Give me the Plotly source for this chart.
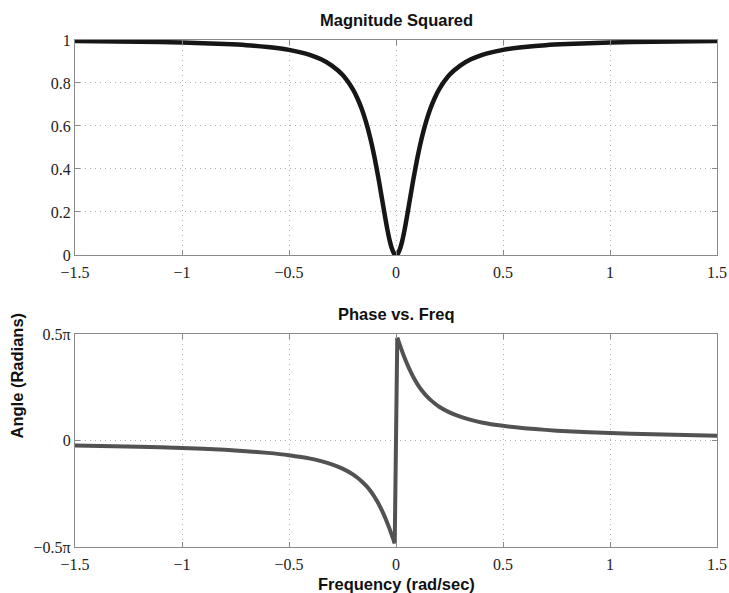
import plotly.graph_objects as go

# ---- data ----
freq_pos = [0.006, 0.01, 0.02, 0.03, 0.04, 0.05, 0.06, 0.07, 0.08, 0.09, 0.10, 0.12, 0.14, 0.16,
            0.18, 0.20, 0.25, 0.30, 0.35, 0.40, 0.50, 0.60, 0.70, 0.80, 1.00, 1.20, 1.50]
mag_pos = [0.003, 0.008, 0.032, 0.069, 0.117, 0.171, 0.229, 0.288, 0.346, 0.40, 0.452, 0.543, 0.618,
           0.679, 0.728, 0.768, 0.838, 0.881, 0.910, 0.930, 0.954, 0.967, 0.976, 0.981, 0.988, 0.992, 0.995]
phase_pos = [0.483, 0.471, 0.443, 0.415, 0.389, 0.364, 0.341, 0.320, 0.300, 0.282, 0.265, 0.236, 0.212,
             0.192, 0.175, 0.160, 0.132, 0.112, 0.097, 0.085, 0.069, 0.058, 0.050, 0.0435, 0.035, 0.029, 0.023]

x_ticks = [-1.5, -1, -0.5, 0, 0.5, 1, 1.5]
x_tick_labels = ["\u22121.5", "\u22121", "\u22120.5", "0", "0.5", "1", "1.5"]
mag_ticks = [0, 0.2, 0.4, 0.6, 0.8, 1]
mag_tick_labels = ["0", "0.2", "0.4", "0.6", "0.8", "1"]
phase_ticks = [-0.5, 0, 0.5]
phase_tick_labels = ["\u22120.5\u03c0", "0", "0.5\u03c0"]

# full curves (negative side mirrors the positive side as seen in the picture)
freq = [-f for f in reversed(freq_pos)] + [0.0] + freq_pos
mag = list(reversed(mag_pos)) + [0.0] + mag_pos
neg_x = [-f for f in reversed(freq_pos)]
neg_phase = [-p for p in reversed(phase_pos)]

phase_color = "#525252"
fig = go.Figure()
fig.add_trace(go.Scatter(x=freq, y=mag, mode="lines",
                         line=dict(color="#161616", width=4.5, shape="spline", smoothing=0.6),
                         xaxis="x", yaxis="y", showlegend=False, hoverinfo="skip"))
fig.add_trace(go.Scatter(x=neg_x, y=neg_phase, mode="lines",
                         line=dict(color=phase_color, width=4, shape="spline", smoothing=0.6),
                         xaxis="x2", yaxis="y2", showlegend=False, hoverinfo="skip"))
fig.add_trace(go.Scatter(x=[neg_x[-1], freq_pos[0]], y=[neg_phase[-1], phase_pos[0]], mode="lines",
                         line=dict(color=phase_color, width=4),
                         xaxis="x2", yaxis="y2", showlegend=False, hoverinfo="skip"))
fig.add_trace(go.Scatter(x=freq_pos, y=phase_pos, mode="lines",
                         line=dict(color=phase_color, width=4, shape="spline", smoothing=0.6),
                         xaxis="x2", yaxis="y2", showlegend=False, hoverinfo="skip"))

tickfont = dict(family="Liberation Serif, Times New Roman, serif", size=16, color="#222")
common_axis = dict(showline=True, linecolor="#8a8a8a", linewidth=1.2, mirror="ticks", ticks="inside",
                   ticklen=5, tickcolor="#8a8a8a", showgrid=True, gridcolor="#b0b0b0",
                   griddash="1px,4px", gridwidth=1, zeroline=False, tickfont=tickfont,
                   automargin=False)

fig.update_layout(
    width=729, height=593,
    margin=dict(l=75, r=12, t=40, b=46),
    paper_bgcolor="white", plot_bgcolor="white",
    xaxis=dict(domain=[0, 1], range=[-1.5, 1.5], tickvals=x_ticks, ticktext=x_tick_labels,
               anchor="y", ticklabelstandoff=3, **common_axis),
    yaxis=dict(domain=[0.576, 1], range=[0, 1], tickvals=mag_ticks, ticktext=mag_tick_labels,
               anchor="x", **common_axis),
    xaxis2=dict(domain=[0, 1], range=[-1.5, 1.5], tickvals=x_ticks, ticktext=x_tick_labels,
                anchor="y2", ticklabelstandoff=3, **common_axis),
    yaxis2=dict(domain=[0, 0.42], range=[-0.5, 0.5], tickvals=phase_ticks, ticktext=phase_tick_labels,
                anchor="x2", **common_axis),
)

title_font = dict(family="Liberation Sans, Arial, sans-serif", size=16.5, color="#111")
fig.add_annotation(text="<b>Magnitude Squared</b>", x=0.5, y=1.0, xref="paper", yref="paper",
                   yanchor="bottom", yshift=9, showarrow=False, font=title_font)
fig.add_annotation(text="<b>Phase vs. Freq</b>", x=0.5, y=0.42, xref="paper", yref="paper",
                   yanchor="bottom", yshift=9, showarrow=False, font=title_font)
fig.add_annotation(text="<b>Frequency (rad/sec)</b>", x=0.5, y=0, xref="paper", yref="paper",
                   yanchor="middle", yshift=-37, showarrow=False, font=title_font)
fig.add_annotation(text="<b>Angle (Radians)</b>", x=0, y=0.21, xref="paper", yref="paper",
                   xanchor="center", xshift=-58, textangle=-90, showarrow=False, font=title_font)

fig.write_html("out.html", config={"displayModeBar": False},
               post_script="document.body.style.margin='0';document.body.style.overflow='hidden';")
